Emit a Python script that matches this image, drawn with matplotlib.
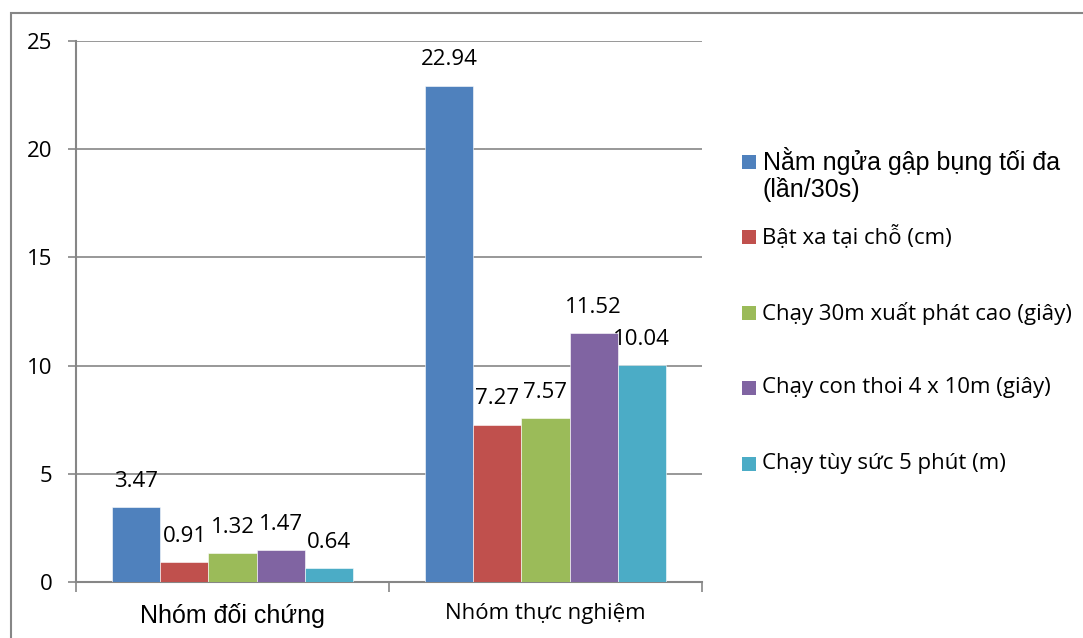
import numpy as np
import matplotlib.pyplot as plt
from matplotlib.patches import Rectangle

# Số liệu: mức tăng trưởng các chỉ tiêu thể lực của hai nhóm
groups = ['Nhóm đối chứng', 'Nhóm thực nghiệm']
series = [
    'Nằm ngửa gập bụng tối đa\n(lần/30s)',
    'Bật xa tại chỗ (cm)',
    'Chạy 30m xuất phát cao (giây)',
    'Chạy con thoi 4 x 10m (giây)',
    'Chạy tùy sức 5 phút (m)',
]
values = [
    [3.47, 22.94],
    [0.91, 7.27],
    [1.32, 7.57],
    [1.47, 11.52],
    [0.64, 10.04],
]
colors = ['#4F81BD', '#C0504D', '#9BBB59', '#8064A2', '#4BACC6']
yticks = [0, 5, 10, 15, 20, 25]

GRAY = '#868686'
BODY = 'Open Sans'
ARIAL = 'Liberation Sans'

W, H = 1083, 638
fig = plt.figure(figsize=(W / 100, H / 100), dpi=100)
ax = fig.add_axes([76 / W, 1 - 582 / H, (702 - 76) / W, (582 - 41) / H])

x = np.arange(len(groups))
bw = 0.1535
for i, (vals, c) in enumerate(zip(values, colors)):
    pos = x + (i - 2) * bw
    ax.bar(pos, vals, width=bw, color=c, edgecolor='white', linewidth=0.4, zorder=3)
    for px, v in zip(pos, vals):
        ax.annotate(f'{v:.2f}', (px, v), xytext=(0, 18.5), textcoords='offset points',
                    ha='center', va='center', fontsize=16, family=BODY, color='black')

ax.set_xlim(-0.5, 1.5)
ax.set_ylim(0, 25)
ax.set_yticks(yticks)
ax.set_yticklabels([str(t) for t in yticks], fontsize=16, family=BODY)
ax.yaxis.grid(True, color=GRAY, linewidth=1.2, zorder=0)
ax.set_axisbelow(True)

ax.set_xticks(x)
ax.set_xticks([-0.5, 0.5, 1.5], minor=True)
ax.tick_params(axis='x', which='major', length=0, pad=15)
ax.tick_params(axis='x', which='minor', length=7, width=1.2, color=GRAY)
ax.tick_params(axis='y', length=6, width=1.2, color=GRAY, pad=11)
ax.set_xticklabels(groups)
xl = ax.get_xticklabels()
xl[0].set_fontfamily(ARIAL)
xl[0].set_fontsize(18)
xl[1].set_fontfamily(BODY)
xl[1].set_fontsize(16)

for s in ['top', 'right']:
    ax.spines[s].set_visible(False)
for s in ['left', 'bottom']:
    ax.spines[s].set_color(GRAY)
    ax.spines[s].set_linewidth(1.5)

# chú giải vẽ tay để đặt ô màu thẳng hàng với dòng đầu
leg_y = [162, 237, 313, 388, 464]
for k, (name, c, yy) in enumerate(zip(series, colors, leg_y)):
    fig.patches.append(Rectangle((742 / W, 1 - (yy + 7) / H), 14 / W, 14 / H,
                                 transform=fig.transFigure, facecolor=c, edgecolor='none'))
    if k == 0:
        fig.text(763 / W, 1 - (yy - 15) / H, name, ha='left', va='top', fontsize=18,
                 family=ARIAL, linespacing=1.1)
    else:
        fig.text(762 / W, 1 - yy / H, name, ha='left', va='center', fontsize=16, family=BODY)

# khung viền biểu đồ
fig.patches.append(Rectangle((11 / W, -0.1), 1.2, 1 - 13 / H + 0.1, transform=fig.transFigure,
                             facecolor='none', edgecolor=GRAY, linewidth=1.5))

fig.savefig('out.png', dpi=100)
